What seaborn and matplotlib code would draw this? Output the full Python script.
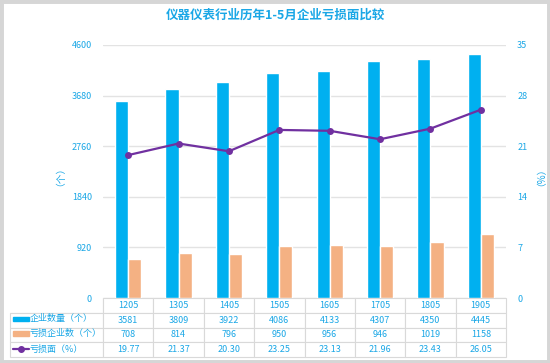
import numpy as np
import pandas as pd
import matplotlib
matplotlib.use("Agg")
import matplotlib.pyplot as plt
from matplotlib.patches import Rectangle
from matplotlib.lines import Line2D
import seaborn as sns

# data
periods = ["1205", "1305", "1405", "1505", "1605", "1705", "1805", "1905"]
firm_count = [3581, 3809, 3922, 4086, 4133, 4307, 4350, 4445]
loss_firms = [708, 814, 796, 950, 956, 946, 1019, 1158]
loss_rate = [19.77, 21.37, 20.30, 23.25, 23.13, 21.96, 23.43, 26.05]
series_names = ["企业数量（个）", "亏损企业数（个）", "亏损面（%）"]

BLUE = "#00B0F0"
ORANGE = "#F4B183"
PURPLE = "#7030A0"
TXT = "#1AA7E6"
GRID = "#E3E3E3"

sns.set_theme(style="white")
plt.rcParams["font.family"] = ["Noto Sans CJK SC", "DejaVu Sans"]

bars = pd.DataFrame({
    "period": periods * 2,
    "value": firm_count + loss_firms,
    "series": [series_names[0]] * len(periods) + [series_names[1]] * len(periods),
})

fig = plt.figure(figsize=(5.5, 3.63), dpi=100)
ax = fig.add_axes([103 / 550, 1 - 298 / 363, 403 / 550, 253 / 363])

sns.barplot(data=bars, x="period", y="value", hue="series",
            palette=[BLUE, ORANGE], width=0.52, gap=0, legend=False,
            saturation=1, ax=ax)
ax.set_ylim(0, 4600)
ax.set_yticks(np.arange(0, 4601, 920))
ax.set_xlim(-0.5, len(periods) - 0.5)
ax.set_xticks([])
ax.set_xlabel("")
ax.set_ylabel("（个）", color=TXT, fontsize=7)
ax.yaxis.set_label_coords((60 - 103) / 403, 0.5)
ax.yaxis.grid(True, color=GRID, linewidth=1)
ax.set_axisbelow(True)
ax.tick_params(axis="y", colors=TXT, labelsize=6.5, length=0, pad=8)
for s in ax.spines.values():
    s.set_visible(False)

ax2 = ax.twinx()
sns.lineplot(x=np.arange(len(periods)), y=loss_rate, color=PURPLE,
             marker="o", markersize=5, markeredgewidth=0, linewidth=1.6, ax=ax2)
ax2.set_ylim(0, 35)
ax2.set_yticks(np.arange(0, 36, 7))
ax2.set_xlim(-0.5, len(periods) - 0.5)
ax2.set_ylabel("（%）", color=TXT, fontsize=7)
ax2.yaxis.set_label_coords((531 - 103) / 403, 0.5)
ax2.tick_params(axis="y", colors=TXT, labelsize=6.5, length=0, pad=8)
for s in ax2.spines.values():
    s.set_visible(False)
ax2.grid(False)

# data table under the plot
cells = [[""] + periods,
         [""] + [str(v) for v in firm_count],
         [""] + [str(v) for v in loss_firms],
         [""] + [f"{v:.2f}" for v in loss_rate]]
x0 = (10 - 103) / 403
tb = ax.table(cellText=cells, cellLoc="center",
              bbox=[x0, -59 / 253, 1 - x0, 59 / 253],
              colWidths=[93 / 403] + [1 / len(periods)] * len(periods))
tb.auto_set_font_size(False)
for (r, c), cell in tb.get_celld().items():
    cell.set_edgecolor("#D9D9D9")
    cell.set_linewidth(0.8)
    cell.get_text().set_color(TXT)
    cell.get_text().set_fontsize(6.5)
    cell.set_facecolor("white")
tb[0, 0].visible_edges = "BR"

# row labels with legend swatches
row_y = [319, 333, 349]
for name, y in zip(series_names, row_y):
    fig.text(30 / 550, 1 - y / 363, name, color=TXT, fontsize=6.5,
             va="center", ha="left")
fig.add_artist(Rectangle((13 / 550, 1 - 321 / 363), 16 / 550, 4 / 363,
                         transform=fig.transFigure, color=BLUE))
fig.add_artist(Rectangle((13 / 550, 1 - 335.5 / 363), 16 / 550, 5 / 363,
                         transform=fig.transFigure, color=ORANGE))
fig.add_artist(Line2D([13 / 550, 29 / 550], [1 - 349 / 363] * 2,
                      transform=fig.transFigure, color=PURPLE, linewidth=1.6))
fig.add_artist(Line2D([21 / 550], [1 - 349 / 363], transform=fig.transFigure,
                      color=PURPLE, marker="o", markersize=4, linestyle=""))

fig.text(0.5, 1 - 15 / 363, "仪器仪表行业历年1-5月企业亏损面比较",
         color=TXT, fontsize=9, fontweight="bold", ha="center", va="center")

# light grey frame around the chart
fig.add_artist(Rectangle((0, 0), 1, 1, transform=fig.transFigure,
                         fill=False, edgecolor="#D6D6D6", linewidth=5))

fig.savefig("out.png", dpi=100)
